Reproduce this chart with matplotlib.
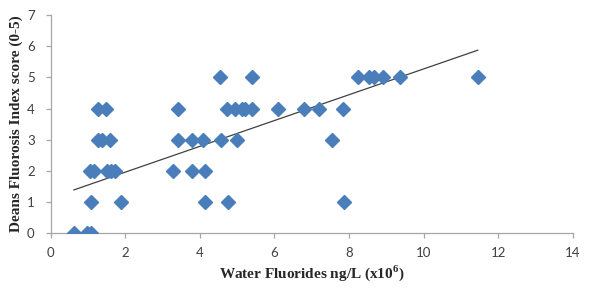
import numpy as np
import matplotlib
matplotlib.use("Agg")
import matplotlib.pyplot as plt

plt.rcParams['mathtext.fontset'] = 'custom'
plt.rcParams['mathtext.rm'] = 'Liberation Serif:bold'
plt.rcParams['mathtext.bf'] = 'Liberation Serif:bold'

# Data
fluoride = [0.62, 0.97, 1.07,
            1.08, 1.89, 4.14, 4.76, 7.87,
            1.05, 1.17, 1.50, 1.63, 1.72, 3.29, 3.78, 4.14,
            1.28, 1.37, 1.59, 3.40, 3.78, 4.09, 4.57, 4.99, 7.55,
            1.28, 1.48, 3.40, 4.72, 4.94, 5.14, 5.21, 5.41, 6.10, 6.79, 7.19, 7.83,
            4.54, 5.41, 8.25, 8.53, 8.67, 8.90, 9.36, 11.45]
score = [0, 0, 0,
         1, 1, 1, 1, 1,
         2, 2, 2, 2, 2, 2, 2, 2,
         3, 3, 3, 3, 3, 3, 3, 3, 3,
         4, 4, 4, 4, 4, 4, 4, 4, 4, 4, 4, 4,
         5, 5, 5, 5, 5, 5, 5, 5]
# Linear trendline as shown in the picture
trend_slope = 0.414
trend_intercept = 1.133
x_ticks = [0, 2, 4, 6, 8, 10, 12, 14]
y_ticks = [0, 1, 2, 3, 4, 5, 6, 7]

fig = plt.figure(figsize=(5.93, 2.96), dpi=100)
ax = fig.add_axes([0.0855, 0.212, 0.8805, 0.737])

x = np.array(fluoride)
y = np.array(score)
ax.plot(x, y, linestyle='none', marker='D', markersize=7,
        color='#4A7EBB', markeredgecolor='#4A7EBB', zorder=3)

xs = np.array([x.min(), x.max()])
ax.plot(xs, trend_intercept + trend_slope * xs, color='#404040',
        linewidth=0.9, zorder=2)

ax.set_xlim(0, 14)
ax.set_ylim(0, 7)
ax.set_xticks(x_ticks)
ax.set_yticks(y_ticks)
for s in ['top', 'right']:
    ax.spines[s].set_visible(False)
for s in ['left', 'bottom']:
    ax.spines[s].set_color('#A6A6A6')
    ax.spines[s].set_linewidth(0.9)
ax.tick_params(direction='out', length=3.5, color='#A6A6A6', width=0.9,
               labelsize=9.5, labelcolor='#404040')
ax.tick_params(axis='x', pad=6.5)
ax.tick_params(axis='y', pad=8)
for lab in ax.get_xticklabels() + ax.get_yticklabels():
    lab.set_family('Lato')

ax.set_xlabel(r'Water Fluorides ng/L (x10$^{6}$)', family='Liberation Serif',
              fontweight='bold', fontsize=11, color='#262626', labelpad=3)
ax.set_ylabel('Deans Fluorosis Index score (0-5)', family='Liberation Serif',
              fontweight='bold', fontsize=11, color='#262626', labelpad=3)

fig.savefig('out.png', dpi=100)
